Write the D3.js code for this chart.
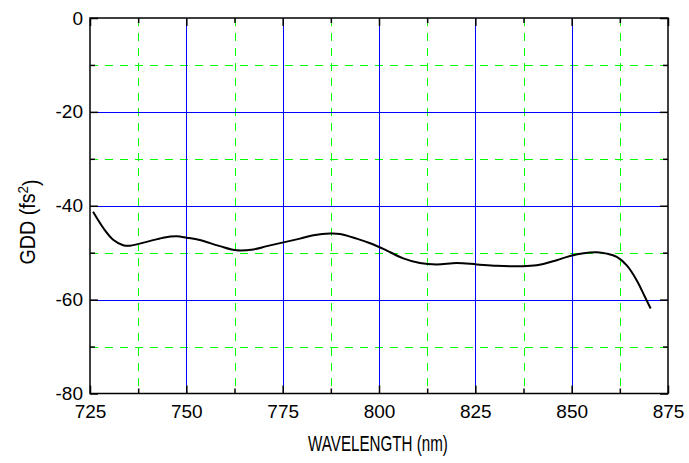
<!DOCTYPE html>
<html>
<head>
<meta charset="utf-8">
<script src="https://cdn.jsdelivr.net/npm/d3@7"></script>
<style>
  html, body { margin: 0; padding: 0; background: #fff; }
  svg { display: block; }
  text { font-family: "Liberation Sans", Arial, sans-serif; fill: #000; }
</style>
</head>
<body>
<svg id="chart" width="689" height="463"></svg>
<script>
// Wavelength (nm) and group-delay dispersion (fs^2) of the measured curve
const wavelength = [725.8, 728.5, 731.1, 733.6, 735.4, 739.7, 744.0, 747.5, 750.1, 753.5,
  758.7, 763.1, 767.4, 770.9, 775.2, 779.5, 783.0, 787.3, 789.9, 794.2, 797.7, 801.9,
  806.3, 810.6, 815.0, 820.2, 825.4, 830.5, 836.6, 840.9, 846.1, 849.6, 853.1, 856.5,
  859.1, 861.7, 864.3, 866.9, 869.0, 870.5];
const gdd = [-41.3, -44.8, -47.3, -48.4, -48.5, -47.7, -46.8, -46.5, -46.8, -47.3,
  -48.6, -49.5, -49.3, -48.6, -47.8, -47.0, -46.3, -45.9, -46.0, -47.0, -48.0, -49.5,
  -51.2, -52.2, -52.5, -52.2, -52.5, -52.8, -52.9, -52.7, -51.6, -50.7, -50.1, -49.9,
  -50.2, -50.9, -52.7, -55.9, -59.4, -61.9];

const xMajor = [725, 750, 775, 800, 825, 850, 875];
const xMinor = [737.5, 762.5, 787.5, 812.5, 837.5, 862.5];
const yMajor = [0, -20, -40, -60, -80];
const yMinor = [-10, -30, -50, -70];

const W = 689, H = 463;
const x0 = 90, x1 = 668;
const y0 = 18, y1 = 393.5;

const svg = d3.select("#chart");
const x = d3.scaleLinear().domain([725, 875]).range([x0, x1]);
const y = d3.scaleLinear().domain([-80, 0]).range([y1, y0]);

// grid: solid blue at major ticks, dashed green at minor ticks
const grid = svg.append("g");
const px = v => Math.round(v) + 0.5;
grid.selectAll("line.gxmin").data(xMinor).join("line").attr("class", "gxmin")
  .attr("x1", d => px(x(d))).attr("x2", d => px(x(d)))
  .attr("y1", y0).attr("y2", y1)
  .attr("stroke", "#00ff00").attr("stroke-dasharray", "8,7");
grid.selectAll("line.gymin").data(yMinor).join("line").attr("class", "gymin")
  .attr("y1", d => px(y(d))).attr("y2", d => px(y(d)))
  .attr("x1", x0).attr("x2", x1)
  .attr("stroke", "#00ff00").attr("stroke-dasharray", "8,7");
grid.selectAll("line.gxmaj").data(xMajor.slice(1, -1)).join("line").attr("class", "gxmaj")
  .attr("x1", d => px(x(d))).attr("x2", d => px(x(d)))
  .attr("y1", y0).attr("y2", y1)
  .attr("stroke", "#0000ff");
grid.selectAll("line.gymaj").data(yMajor.slice(1, -1)).join("line").attr("class", "gymaj")
  .attr("y1", d => px(y(d))).attr("y2", d => px(y(d)))
  .attr("x1", x0).attr("x2", x1)
  .attr("stroke", "#0000ff");

// axes with inward ticks on all four sides
const fmt = d => String(d);
function styleAxis(g) {
  g.select(".domain").remove();
  g.selectAll(".tick line").attr("stroke", "#000").attr("stroke-width", 1.5);
  g.selectAll(".tick text").style("font-size", "19px").attr("fill", "#000");
}
const bottom = svg.append("g").attr("transform", `translate(0,${y1})`)
  .call(d3.axisBottom(x).tickValues(xMajor).tickFormat(fmt).tickSizeInner(-8).tickPadding(11));
styleAxis(bottom);
svg.append("g").attr("transform", `translate(0,${y1})`)
  .call(d3.axisBottom(x).tickValues(xMinor).tickFormat("").tickSizeInner(-5)).call(styleAxis);
svg.append("g").attr("transform", `translate(0,${y0})`)
  .call(d3.axisTop(x).tickValues(xMajor).tickFormat("").tickSizeInner(-8)).call(styleAxis);
svg.append("g").attr("transform", `translate(0,${y0})`)
  .call(d3.axisTop(x).tickValues(xMinor).tickFormat("").tickSizeInner(-5)).call(styleAxis);
const left = svg.append("g").attr("transform", `translate(${x0},0)`)
  .call(d3.axisLeft(y).tickValues(yMajor).tickFormat(fmt).tickSizeInner(-8).tickPadding(7));
styleAxis(left);
svg.append("g").attr("transform", `translate(${x0},0)`)
  .call(d3.axisLeft(y).tickValues(yMinor).tickFormat("").tickSizeInner(-5)).call(styleAxis);
svg.append("g").attr("transform", `translate(${x1},0)`)
  .call(d3.axisRight(y).tickValues(yMajor).tickFormat("").tickSizeInner(-8)).call(styleAxis);
svg.append("g").attr("transform", `translate(${x1},0)`)
  .call(d3.axisRight(y).tickValues(yMinor).tickFormat("").tickSizeInner(-5)).call(styleAxis);

// plot frame
svg.append("rect")
  .attr("x", x0).attr("y", y0).attr("width", x1 - x0).attr("height", y1 - y0)
  .attr("fill", "none").attr("stroke", "#000").attr("stroke-width", 1.5);

// GDD curve
const pts = wavelength.map((w, i) => [w, gdd[i]]);
svg.append("path").datum(pts)
  .attr("fill", "none").attr("stroke", "#000").attr("stroke-width", 2)
  .attr("d", d3.line().x(d => x(d[0])).y(d => y(d[1])).curve(d3.curveCatmullRom.alpha(0.5)));

// axis titles: tall, narrow lettering squeezed to a fixed run length
function squeeze(sel, cx, cy, angle, runLength) {
  const bb = sel.node().getBBox();
  const s = runLength / bb.width;
  sel.attr("transform", `translate(${cx},${cy}) rotate(${angle}) scale(${s},1)`);
}
const xt = svg.append("text").attr("text-anchor", "middle")
  .style("font-size", "22px").text("WAVELENGTH (nm)");
squeeze(xt, 378, 451, 0, 140);

const yt = svg.append("text").attr("text-anchor", "middle").style("font-size", "22px");
yt.append("tspan").text("GDD (fs");
yt.append("tspan").attr("dy", "-0.48em").style("font-size", "15px").text("2");
yt.append("tspan").attr("dy", "0.48em").text(")");
squeeze(yt, 35, 222, -90, 85);
</script>
</body>
</html>
